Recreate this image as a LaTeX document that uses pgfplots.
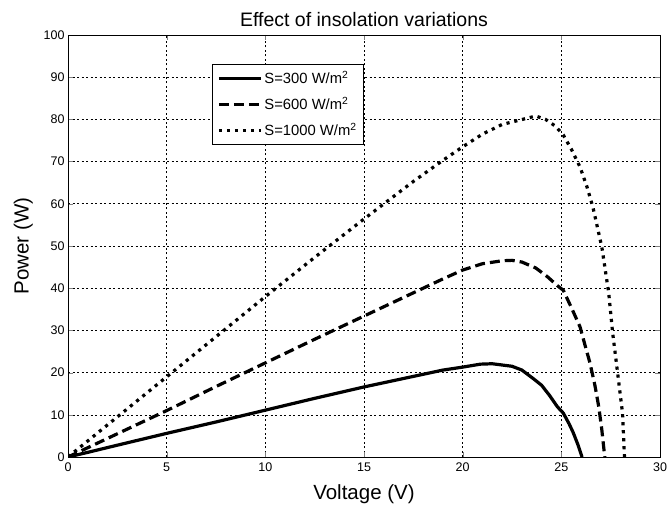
\documentclass[border=0pt]{standalone}
\usepackage{fontspec}
\setmainfont{Liberation Sans}
\usepackage{pgfplots}
\pgfplotsset{compat=1.18}
\begin{document}
\begin{tikzpicture}
\begin{axis}[
  scale only axis, width=592pt, height=422pt,
  xmin=0, xmax=30, ymin=0, ymax=100,
  xtick={0,5,...,30}, ytick={0,10,...,100},
  /pgf/number format/assume math mode=true,
  tick label style={font=\fontsize{12.5}{14}\selectfont},
  xticklabel style={yshift=-2pt},
  tick align=inside, major tick length=5pt,
  grid=major,
  major grid style={black, line width=0.6pt, dash pattern=on 2pt off 2.5pt},
  axis line style={black, line width=0.8pt},
  title={Effect of insolation variations},
  title style={font=\fontsize{19.5}{22}\selectfont, yshift=-1pt},
  xlabel={Voltage (V)}, ylabel={Power (W)},
  label style={font=\fontsize{20.5}{24}\selectfont},
  xlabel style={yshift=-6pt},
  ylabel style={yshift=4pt},
  legend cell align=left,
  legend style={at={(rel axis cs:0.243,0.931)}, anchor=north west,
    font=\fontsize{14.8}{17}\selectfont, draw=black, line width=0.8pt,
    row sep=8pt, inner xsep=5pt, inner ysep=5pt,
    nodes={inner sep=2pt}},
  legend image code/.code={\draw[#1] plot coordinates {(0pt,0pt) (21pt,0pt) (42pt,0pt)};},
]
\addplot[black, line width=3.2pt] coordinates {
(0,0) (1,1.1) (2.5,2.8) (5,5.6) (7.5,8.3) (10,11.1) (12.5,13.9) (15,16.6)
(17.5,19.1) (19,20.6) (20,21.3) (20.9,22.0) (21.5,22.1) (22.5,21.5) (23,20.6)
(23.6,18.5) (24,17.0) (24.4,14.6) (24.8,11.9) (25.1,10.4) (25.4,7.8) (25.6,5.8)
(25.85,2.8) (26.05,0)};
\addlegendentry{S=300 W/m\textsuperscript{2}}
\addplot[black, line width=3.2pt, dash pattern=on 10pt off 5pt] coordinates {
(0,0) (1,2.2) (2.5,5.5) (5,11) (7.5,16.7) (10,22.3) (12.5,27.9) (15,33.4)
(17.5,38.9) (19,42.2) (20,44.3) (21,45.8) (22,46.5) (22.5,46.6) (23,46.2)
(23.7,44.8) (24.3,42.7) (24.8,40.6) (25.1,39.5) (25.5,35.5) (25.95,30.8)
(26.2,26.5) (26.45,22.3) (26.7,17) (26.9,11.8) (27.05,6.5) (27.2,0)};
\addlegendentry{S=600 W/m\textsuperscript{2}}
\addplot[black, line width=3.2pt, dash pattern=on 3.2pt off 4.8pt] coordinates {
(0,0) (1,3.8) (2.5,9.5) (5,19) (7.5,28.5) (10,38) (12.5,47.3) (15,56.4)
(17.5,65.3) (19,70.3) (20,73.5) (21,76.5) (22,78.8) (22.6,79.5) (23.2,80.2)
(23.7,80.8) (24.2,80) (24.7,78.4) (25.1,76.3) (25.5,73.0) (25.95,68.7)
(26.3,64) (26.6,59.2) (27.05,49.8) (27.4,38.9) (27.6,29.4) (27.85,20)
(28.1,10.4) (28.2,0)};
\addlegendentry{S=1000 W/m\textsuperscript{2}}
\end{axis}
\pgfresetboundingbox
\useasboundingbox (-68pt,-51pt) rectangle (600pt,457pt);
\end{tikzpicture}
\end{document}
